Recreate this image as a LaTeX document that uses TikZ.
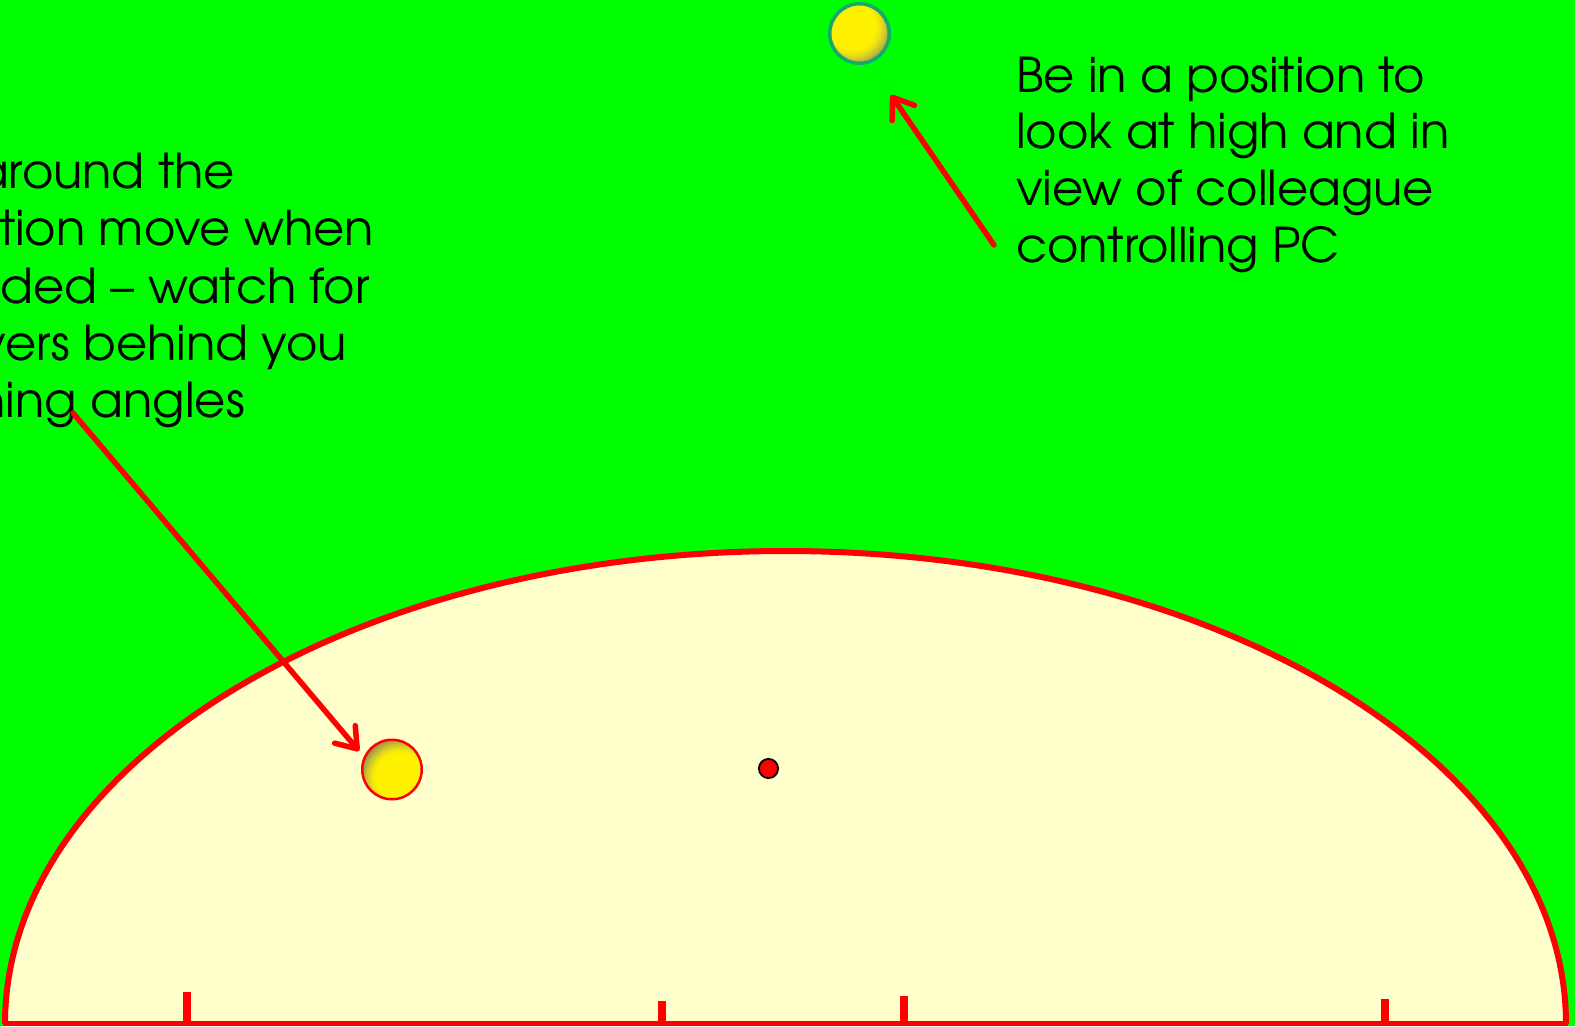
\documentclass[tikz,border=0pt]{standalone}
\usepackage{fontspec}
\setmainfont{TeX Gyre Adventor}
\usetikzlibrary{arrows.meta}
\definecolor{bggreen}{RGB}{0,255,0}
\definecolor{cream}{RGB}{255,255,204}
\definecolor{ringteal}{RGB}{20,170,110}
\definecolor{pitchred}{RGB}{255,0,0}
\tikzset{
  ball/.style={circle, inner sep=0pt, minimum size=59.5pt},
  txtR/.style={font=\fontsize{48}{56}\selectfont, inner sep=0pt, anchor=base west, text=black},
  txtL/.style={font=\fontsize{48}{56}\selectfont, inner sep=0pt, anchor=base east, text=black},
  arr/.style={draw=pitchred, line width=5.5pt, line cap=round, -{Straight Barb[length=19pt, width=27pt, round]}},
  tick/.style={fill=pitchred},
}
\begin{document}
\begin{tikzpicture}[x=1pt,y=-1pt]
\useasboundingbox (0,0) rectangle (1575,1026);
\fill[bggreen] (0,0) rectangle (1575,1026);
% pitch (half ellipse)
\begin{scope}
  \clip (0,0) rectangle (1575,1023.5);
  \filldraw[fill=cream, draw=pitchred, line width=6pt] (785.5,1024) ellipse [x radius=780.5, y radius=473];
\end{scope}
\draw[pitchred, line width=5pt] (3,1023.5) -- (1568,1023.5);
% ticks
\fill[tick] (182.5,992) rectangle (190.5,1024);
\fill[tick] (658,1001) rectangle (666,1024);
\fill[tick] (900,996) rectangle (908,1024);
\fill[tick] (1381,999) rectangle (1389,1024);
% ball shading (layered)
\coordinate (topc) at (859.5,33.5);
\coordinate (leftc) at (392,769.5);
\begin{scope}
  \clip (topc) circle (29.75);
  \foreach \r/\c in {46/48,44/52,42/56,40/61,38/67,36/73,34/79,32/85,30/90,28/94,26/97,24/100}
    \fill[yellow!\c!black] ([shift={(-7,-7)}]topc) circle (\r);
\end{scope}
\begin{scope}
  \clip (leftc) circle (29.75);
  \foreach \r/\c in {46/45,44/48,42/52,40/57,38/63,36/70,34/77,32/84,30/90,28/95,26/98,24/100}
    \fill[yellow!\c!black] ([shift={(8,8)}]leftc) circle (\r);
\end{scope}
% balls and spot
\node[ball, draw=ringteal, line width=3.5pt] (topball) at (topc) {};
\node[ball, draw=pitchred, line width=2.5pt] (leftball) at (leftc) {};
\node[circle, inner sep=0pt, minimum size=19.2pt, fill=pitchred, draw=black, line width=1.8pt] (spot) at (768.5,768.5) {};
% right text
\node[txtR] (r1) at (1016,92) {Be in a position to};
\node[txtR] (r2) at (1016,148.5) {look at high and in};
\node[txtR] (r3) at (1016,205.5) {view of colleague};
\node[txtR] (r4) at (1016,262) {controlling PC};
% left text (cut by the page edge)
\node[txtL] (l1) at (235,188) {around the};
\node[txtL] (l2) at (374,245) {tion move when};
\node[txtL] (l3) at (370,303) {ded – watch for};
\node[txtL] (l4) at (347,360) {vers behind you};
\node[txtL] (l5) at (245,417) {ning angles};
% arrows
\coordinate (tailA) at (73,413);
\coordinate (tipA) at (359,751);
\coordinate (tailB) at (994,245);
\coordinate (tipB) at (891,95);
\draw[arr] (tailA) -- (tipA);
\draw[arr] (tailB) -- (tipB);
\end{tikzpicture}
\end{document}
